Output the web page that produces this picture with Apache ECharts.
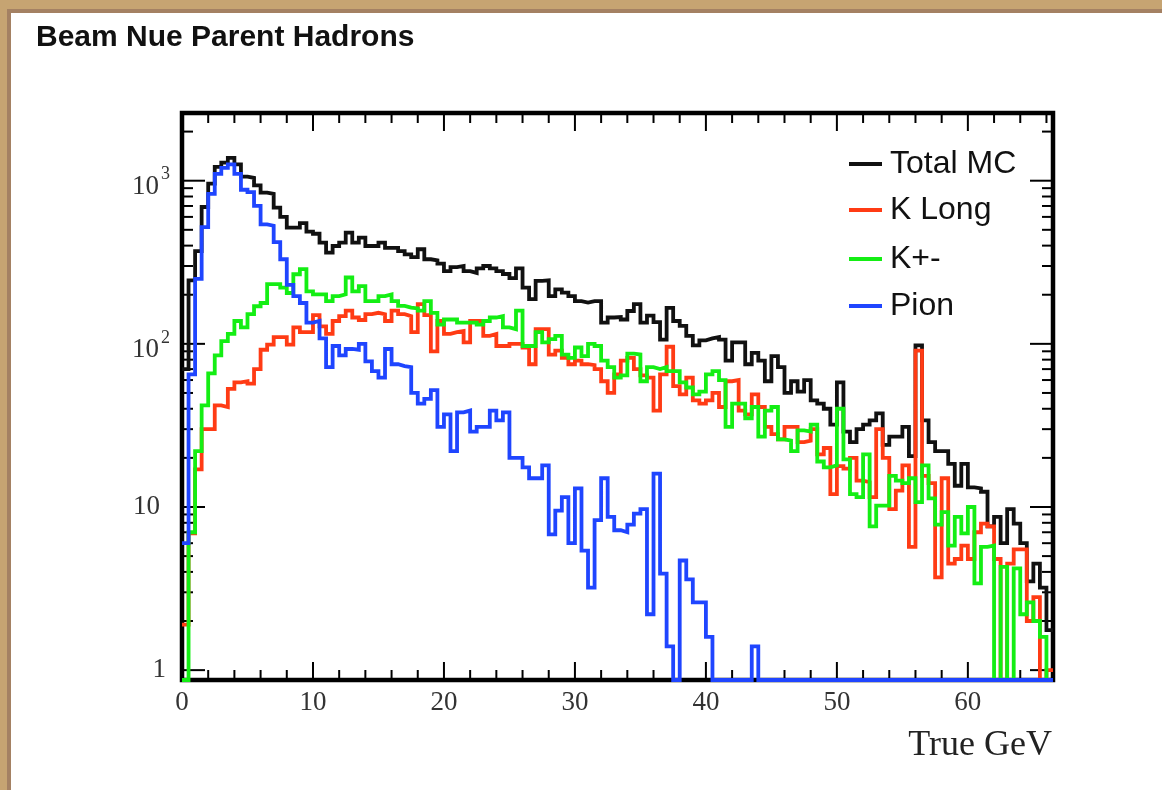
<!DOCTYPE html>
<html>
<head>
<meta charset="utf-8">
<script src="https://cdn.jsdelivr.net/npm/echarts@6.0.0/dist/echarts.min.js"></script>
<style>
html,body{margin:0;padding:0;width:1162px;height:790px;overflow:hidden;background:#c6a472;}
#panel{position:absolute;left:7px;top:9px;width:1160px;height:790px;background:#fff;border-left:4px solid #a48163;border-top:4px solid #a48163;}
#chart{position:absolute;left:0;top:0;width:1162px;height:790px;}
</style>
</head>
<body>
<div id="panel"></div>
<div id="chart"></div>
<script>
// ---- histogram binning (True GeV) ----
const BIN_WIDTH = 0.5;
const X_MIN = 0;
const X_MAX = 66.5;
const Y_MIN = 0.87;
const Y_MAX = 2600;

const seriesNames = ['Total MC', 'K Long', 'K+-', 'Pion'];

// bin contents, one value per 0.5 GeV bin, starting at 0 GeV
const totalMC = [
  70,245,370,690,960,1215,1290,1380,1260,1060,
  1040,935,845,830,683,600,515,515,550,487,
  473,417,362,398,417,480,417,448,398,398,
  417,388,388,370,354,340,380,330,325,310,
  279,295,300,279,272,290,300,290,279,268,
  253,290,221,188,243,245,196,216,206,196,
  183,179,183,183,135,145,146,141,159,175,
  135,149,136,106,166,138,129,112,98,105,
  108,110,106,79,102,102,75,88,79,59,
  84,72,50,59,51,60,45,43,40,32,
  58,29,25,30,32,34,37.5,24,27,27,
  31,20.5,98,34,25,22,22,18.4,13.5,18.4,
  13.2,13,12.4,7.6,8.7,6,9.7,7.9,6,3.5,
  4.5,3.2,1.76
];
const kLong = [
  1.9,6.9,17,30,30,42,41,53,58,59,
  57,70,92,99,110,110,99,126,118,118,
  150,128,115,138,148,160,145,140,152,155,
  152,138,160,152,148,118,175,150,90,138,
  115,118,120,102,138,138,112,115,97,97,
  100,100,95,75,123,123,86,91,82,75,
  79,75,74,70,59,50,65,79,82,70,
  64,62,39,65,96,55,49,62,45,43,
  45,50,41,59,60,39,37,49,41,31,
  28,26,31,31,25,25.5,30,21,23,12,
  17.8,17.2,20,14.5,14.2,11.5,30,20,9.7,12.6,
  18,5.7,91,15.5,14,3.7,15,4.5,4.8,5.8,
  4.8,7,7.9,7.6,4.8,0,4.5,5.5,5.5,2.0,
  2.8,0,1
];
const kPlusMinus = [
  0,7,22,42,66,85,104,115,138,126,
  152,170,178,232,232,221,205,267,287,210,
  201,201,183,196,201,255,210,226,183,183,
  196,201,183,171,167,165,160,183,155,131,
  141,141,135,135,135,131,138,145,148,126,
  123,160,97,97,118,102,107,112,86,82,
  95,84,100,97,79,72,62,64,87,86,
  59,72,70,72,68,68,58,54,49,51,
  65,68,60,31,43,43,35,41,27,39,
  41,26,25.5,22,29.5,29,32,19,17.5,18,
  40,19.6,12,11.5,21,7.6,10.2,10.2,15.5,14.5,
  14,15,10.7,18,11.3,7.8,9.3,5.8,8.7,6.9,
  10,3.4,5.7,5.8,0,4.3,0,4.2,2.2,2.6,
  2.0,1.6,0
];
const pion = [
  6,65,250,520,830,1100,1200,1260,1100,880,
  850,700,540,530,420,330,230,196,178,135,
  138,108,72,97,85,93,92,100,78,68,
  62,93,75,73,72,50,43,46,52,31,
  37,22,38,39,29,31,31,39,34,38,
  20,20,17.5,15,15,18,6.8,9.5,11.5,6,
  13,5.4,3.2,8.3,15,8.7,7.2,7,7.8,9.1,
  9.7,2.2,16,3.9,1.4,0,4.7,3.6,2.6,2.6,
  1.6,0,0,0,0,0,0,1.4,0,0,
  0,0,0,0,0,0,0,0,0,0,
  0,0,0,0,0,0,0,0,0,0,
  0,0,0,0,0,0,0,0,0,0,
  0,0,0,0,0,0,0,0,0,0,
  0,0,0
];

// axis tick positions
const xMajorTicks = [0,10,20,30,40,50,60];
const xMinorTicks = [2,4,6,8,12,14,16,18,22,24,26,28,32,34,36,38,42,44,46,48,52,54,56,58,62,64,66];
const yMajorTicks = [1,10,100,1000];
const yMinorTicks = [2,3,4,5,6,7,8,9,20,30,40,50,60,70,80,90,200,300,400,500,600,700,800,900,2000];

const colors = ['#111111', '#ff3b14', '#14ee14', '#1f45ff'];

function toSteps(vals) {
  // zero-content bins are drawn on the lower frame, as ROOT does on a log scale
  const pts = vals.map((v, i) => [X_MIN + i * BIN_WIDTH, v > 0 ? v : Y_MIN]);
  const last = vals[vals.length - 1];
  pts.push([X_MIN + vals.length * BIN_WIDTH, last > 0 ? last : Y_MIN]);
  return pts;
}

const chart = echarts.init(document.getElementById('chart'), null, {renderer: 'canvas'});

const serifFont = '"Liberation Serif", "DejaVu Serif", serif';
const sansFont = '"Liberation Sans", Arial, sans-serif';

function histSeries(name, vals, color, z) {
  return {
    name: name,
    type: 'line',
    step: 'end',
    data: toSteps(vals),
    showSymbol: false,
    symbol: 'none',
    clip: true,
    z: z,
    lineStyle: {color: color, width: 3.8, join: 'miter', cap: 'butt'},
    itemStyle: {color: color},
    emphasis: {disabled: true}
  };
}

function legendAt(name, top) {
  return {
    data: [name],
    left: 849,
    top: top,
    padding: 0,
    icon: 'rect',
    itemWidth: 33,
    itemHeight: 4,
    selectedMode: false,
    textStyle: {fontFamily: sansFont, fontSize: 32, color: '#111', lineHeight: 36, padding: [0, 0, 0, 3]}
  };
}

const tickStyle = {stroke: '#000', lineWidth: 2};

const option = {
  animation: false,
  backgroundColor: 'transparent',
  title: [
    {
      text: 'Beam Nue Parent Hadrons',
      left: 36,
      top: 23,
      padding: 0,
      textStyle: {fontFamily: sansFont, fontWeight: 'bold', fontSize: 30, color: '#111'}
    },
    {
      text: 'True GeV',
      right: 110,
      top: 728,
      padding: 0,
      textStyle: {fontFamily: serifFont, fontWeight: 'normal', fontSize: 36, color: '#222'}
    }
  ],
  legend: [
    legendAt('Total MC', 146),
    legendAt('K Long', 192),
    legendAt('K+-', 241),
    legendAt('Pion', 288)
  ],
  grid: {
    left: 182, top: 113, right: 1162 - 1053, bottom: 790 - 680,
    show: true, borderColor: '#000', borderWidth: 4.5, backgroundColor: 'transparent'
  },
  xAxis: [{
    type: 'value', min: X_MIN, max: X_MAX, interval: 10,
    axisLine: {show: false}, axisTick: {show: false}, splitLine: {show: false},
    axisLabel: {
      margin: 9, showMaxLabel: false,
      fontFamily: serifFont, fontSize: 27, color: '#333',
      formatter: function (v) { return xMajorTicks.indexOf(v) >= 0 ? String(v) : ''; }
    }
  }],
  yAxis: [{
    type: 'log', logBase: 10, min: Y_MIN, max: Y_MAX,
    axisLine: {show: false}, axisTick: {show: false}, splitLine: {show: false},
    axisLabel: {
      margin: 12, showMinLabel: true, showMaxLabel: false,
      formatter: function (v) {
        const e = Math.log10(v);
        const r = Math.round(e);
        if (Math.abs(e - r) > 1e-6) return '';
        if (r === 0) return '{one|1}';
        if (r === 1) return '{ten|10}';
        return '{base|10}{sup|' + r + '}';
      },
      rich: {
        one: {fontFamily: serifFont, fontSize: 27, color: '#333', padding: [0, 4, 0, 0]},
        ten: {fontFamily: serifFont, fontSize: 27, color: '#333', padding: [0, 10, 0, 0]},
        base: {fontFamily: serifFont, fontSize: 27, color: '#333', lineHeight: 30, padding: [12, 0, 0, 0]},
        sup: {fontFamily: serifFont, fontSize: 18, color: '#333', lineHeight: 18, verticalAlign: 'top', padding: [0, 0, 0, 2]}
      }
    }
  }],
  series: [
    {
      name: 'xticks', type: 'custom', coordinateSystem: 'cartesian2d', z: 1, silent: true,
      data: xMajorTicks.map(v => [v, 1]).concat(xMinorTicks.map(v => [v, 0])),
      encode: {x: 0},
      renderItem: function (params, api) {
        const v = api.value(0);
        const len = api.value(1) ? 18 : 10;
        const b = api.coord([v, Y_MIN]);
        const t = api.coord([v, Y_MAX]);
        return {type: 'group', children: [
          {type: 'line', shape: {x1: b[0], y1: b[1], x2: b[0], y2: b[1] - len}, style: tickStyle},
          {type: 'line', shape: {x1: t[0], y1: t[1], x2: t[0], y2: t[1] + len}, style: tickStyle}
        ]};
      }
    },
    {
      name: 'yticks', type: 'custom', coordinateSystem: 'cartesian2d', z: 1, silent: true,
      data: yMajorTicks.map(v => [X_MIN, v, 1]).concat(yMinorTicks.map(v => [X_MIN, v, 0])),
      encode: {x: 0, y: 1},
      renderItem: function (params, api) {
        const v = api.value(1);
        const len = api.value(2) ? 23 : 11;
        const l = api.coord([X_MIN, v]);
        const r = api.coord([X_MAX, v]);
        return {type: 'group', children: [
          {type: 'line', shape: {x1: l[0], y1: l[1], x2: l[0] + len, y2: l[1]}, style: tickStyle},
          {type: 'line', shape: {x1: r[0], y1: r[1], x2: r[0] - len, y2: r[1]}, style: tickStyle}
        ]};
      }
    },
    histSeries(seriesNames[0], totalMC, colors[0], 3),
    histSeries(seriesNames[1], kLong, colors[1], 4),
    histSeries(seriesNames[2], kPlusMinus, colors[2], 5),
    histSeries(seriesNames[3], pion, colors[3], 6)
  ]
};
chart.setOption(option);
</script>
</body>
</html>
